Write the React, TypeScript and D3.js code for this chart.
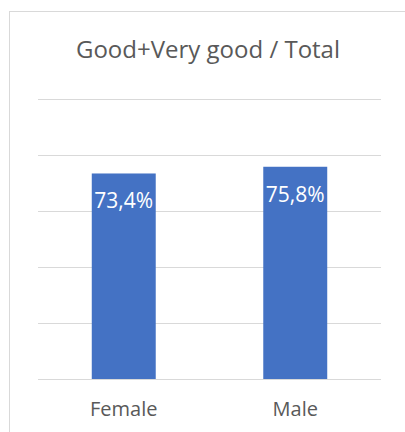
import * as d3 from "d3";
import React from "react";

// chart data
const categories = ["Female", "Male"];
const values = [73.4, 75.8];
const valueLabels = ["73,4%", "75,8%"];
const gridTicks = [0, 20, 40, 60, 80, 100];
const title = "Good+Very good / Total";

const W = 405;
const H = 432;
const plot = { left: 38, right: 381, top: 99, bottom: 379 };
const font = "'Open Sans', 'Noto Sans', sans-serif";

const App = () => {
  // scales
  const x = d3
    .scaleBand<string>()
    .domain(categories)
    .range([plot.left, plot.right])
    .paddingInner(0.627)
    .paddingOuter(0.3135);
  const y = d3.scaleLinear().domain([0, 100]).range([plot.bottom, plot.top]);

  return (
    <svg
      width={W}
      height={H}
      style={{ position: "absolute", left: 0, top: 0, background: "#fff" }}
    >
      {/* chart area border */}
      <rect x={9.5} y={11.5} width={W} height={H} fill="#fff" stroke="#d9d9d9" strokeWidth={1} />

      <text
        x={208}
        y={58}
        textAnchor="middle"
        fontFamily={font}
        fontSize={24}
        fill="#595959"
      >
        {title}
      </text>

      {/* gridlines */}
      {gridTicks.map((t) => (
        <line
          key={t}
          x1={plot.left}
          x2={plot.right}
          y1={Math.round(y(t)) + 0.5}
          y2={Math.round(y(t)) + 0.5}
          stroke="#d9d9d9"
          strokeWidth={1}
        />
      ))}

      {/* bars */}
      {categories.map((c, i) => (
        <rect
          key={c}
          x={x(c)}
          y={y(values[i])}
          width={x.bandwidth()}
          height={y(0) - y(values[i])}
          fill="#4472c4"
        />
      ))}

      {/* value labels, inside end */}
      {categories.map((c, i) => (
        <text
          key={c}
          x={(x(c) ?? 0) + x.bandwidth() / 2}
          y={y(values[i]) + 35}
          textAnchor="middle"
          fontFamily={font}
          fontSize={21}
          fill="#fff"
        >
          {valueLabels[i]}
        </text>
      ))}

      {/* category axis labels */}
      {categories.map((c) => (
        <text
          key={c}
          x={(x(c) ?? 0) + x.bandwidth() / 2}
          y={416}
          textAnchor="middle"
          fontFamily={font}
          fontSize={20}
          fill="#595959"
        >
          {c}
        </text>
      ))}
    </svg>
  );
};

export default App;
